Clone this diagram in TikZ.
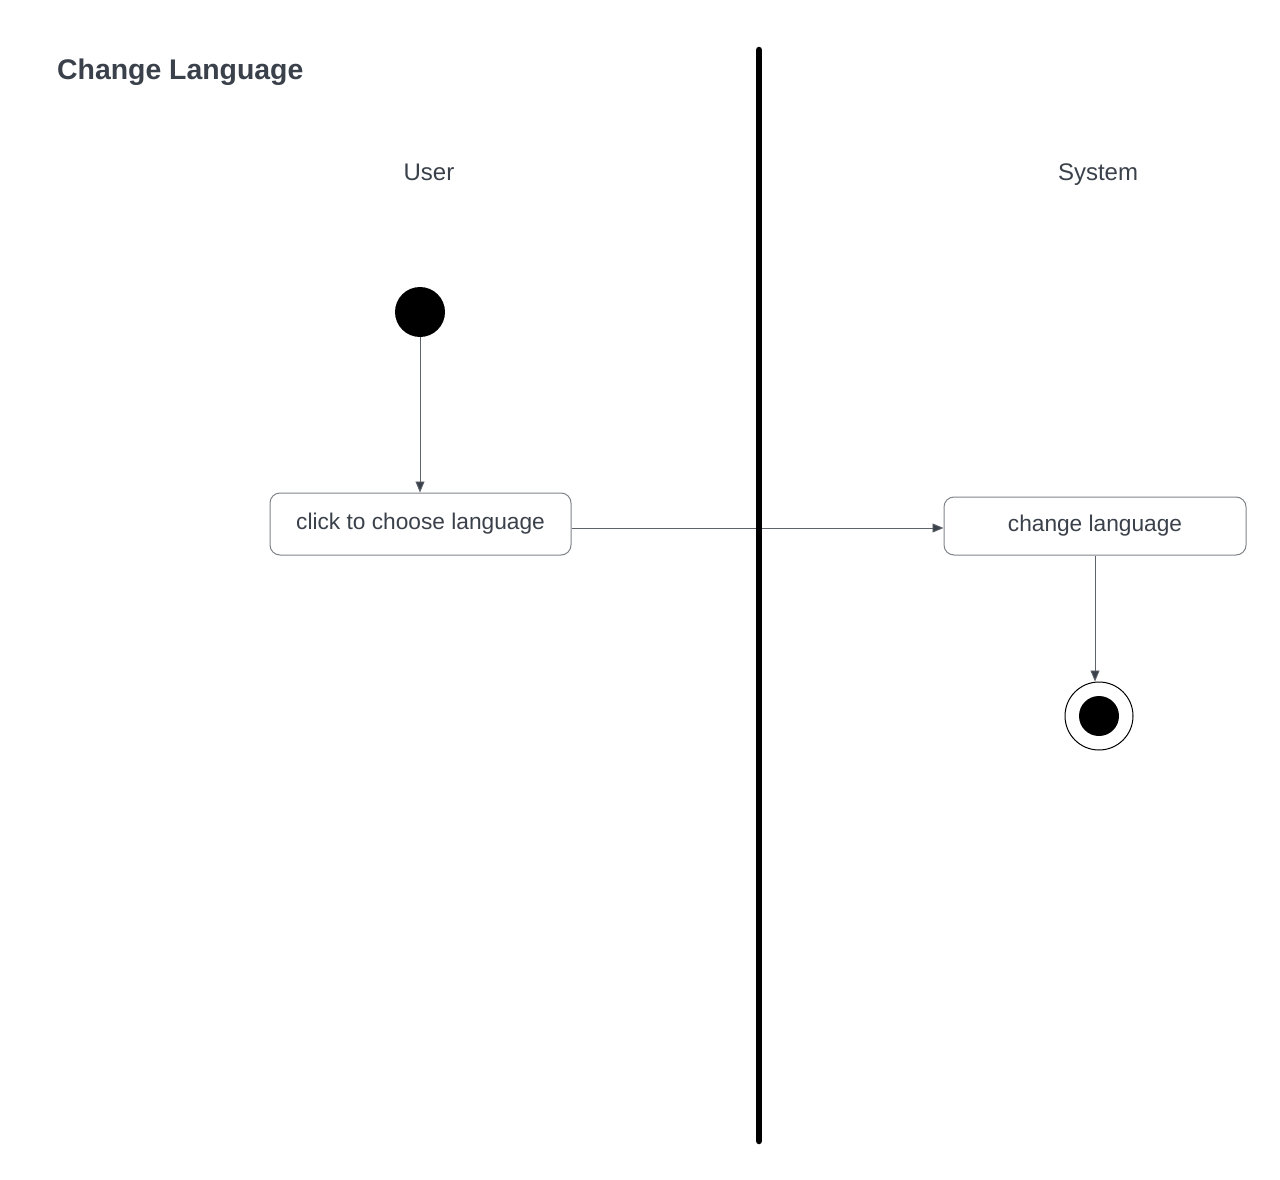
\documentclass[tikz,border=0pt]{standalone}
\usepackage{fontspec}
\setmainfont{Liberation Sans}
\usetikzlibrary{arrows.meta,calc}
\definecolor{ink}{HTML}{3A414A}
\definecolor{wire}{HTML}{5E636A}
\definecolor{frame}{HTML}{7F8489}
\tikzset{
  lbl/.style={text=ink, font=\fontsize{24}{28}\selectfont, inner sep=0pt, anchor=base},
  actbox/.style={draw=frame, line width=1pt, rounded corners=10pt, fill=white,
     text=ink, font=\fontsize{22.7}{27}\selectfont, inner sep=0pt},
  flow/.style={draw=wire, line width=0.9pt, -{Triangle[length=11pt,width=9pt,fill=ink]}},
  lane/.style={line width=6.5pt, line cap=round, black}
}
\begin{document}
\begin{tikzpicture}[x=1pt,y=-1pt]
\useasboundingbox[fill=white] (0,0) rectangle (1280,1180);
% title
\node[anchor=base west, text=ink, inner sep=0pt, font=\bfseries\fontsize{28.4}{32}\selectfont] (title) at (57,80) {Change Language};
% lane headers
\node[lbl] (user) at (429,181) {User};
\node[lbl] (system) at (1098,181) {System};
% nodes
\node[circle, fill=black, minimum size=50pt, inner sep=0pt] (start) at (420,312) {};
\node[actbox, minimum width=301pt, minimum height=62pt] (choose) at (420.5,524) {click to choose language};
\node[actbox, minimum width=302pt, minimum height=58pt] (change) at (1095,526) {change language};
\node[circle, draw=black, line width=1pt, fill=white, minimum size=68pt, inner sep=0pt] (finish) at (1099,716) {};
\node[circle, fill=black, minimum size=40pt, inner sep=0pt] (finishdot) at (finish.center) {};
% connectors
\draw[flow] (start.south) -- (start.south |- choose.north);
\draw[flow] ([yshift=-4pt]choose.east) -- ([yshift=-2pt]change.west);
\draw[flow] (change.south) -- (change.south |- finish.north);
% swimlane divider
\coordinate (laneTop) at (759,50);
\coordinate (laneBot) at (759,1141);
\draw[lane] (laneTop) -- (laneBot);
\end{tikzpicture}
\end{document}
